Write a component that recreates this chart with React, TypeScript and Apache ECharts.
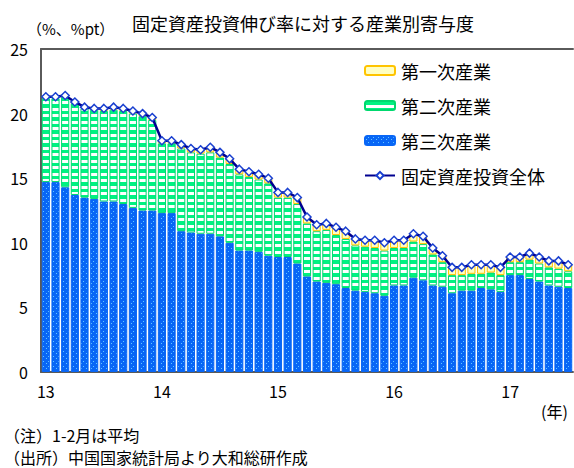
import React, { useEffect, useRef } from "react";
import * as echarts from "echarts";

const years = ["13", "14", "15", "16", "17"];
const monthsShown = 55;

// 固定資産投資全体 (%)
const total = [
  21.3, 21.3, 21.4, 20.9, 20.5, 20.4, 20.4, 20.5, 20.4, 20.2, 20.0, 19.7,
  17.9, 17.9, 17.6, 17.3, 17.2, 17.4, 17.0, 16.5, 15.7, 15.5, 15.3, 15.0,
  13.9, 13.9, 13.5, 12.0, 11.4, 11.5, 11.2, 10.9, 10.3, 10.2, 10.2, 10.0,
  10.2, 10.2, 10.7, 10.5, 9.6, 9.0, 8.1, 8.1, 8.3, 8.3, 8.3, 8.1,
  8.9, 8.9, 9.2, 8.9, 8.6, 8.6, 8.3,
];
// 第三次産業 (%pt)
const tertiary = [
  14.7, 14.7, 14.3, 13.7, 13.5, 13.4, 13.2, 13.2, 13.0, 12.7, 12.5, 12.5,
  12.3, 12.3, 10.9, 10.8, 10.7, 10.7, 10.5, 10.0, 9.4, 9.4, 9.3, 9.0,
  8.9, 8.9, 8.4, 7.4, 7.0, 6.9, 6.8, 6.5, 6.3, 6.2, 6.1, 5.9,
  6.7, 6.7, 7.3, 7.1, 6.7, 6.6, 6.1, 6.3, 6.3, 6.5, 6.4, 6.2,
  7.5, 7.5, 7.2, 7.0, 6.7, 6.6, 6.5,
];
// 第二次産業 (%pt)
const secondary = [
  6.5, 6.5, 7.0, 7.1, 6.9, 6.9, 7.0, 7.1, 7.2, 7.3, 7.3, 7.0,
  5.4, 5.4, 6.4, 6.2, 6.2, 6.3, 6.1, 6.1, 5.9, 5.7, 5.6, 5.6,
  4.6, 4.6, 4.6, 4.1, 3.9, 4.1, 3.8, 3.8, 3.5, 3.5, 3.5, 3.5,
  2.9, 2.9, 2.8, 2.8, 2.4, 1.9, 1.4, 1.2, 1.3, 1.1, 1.3, 1.3,
  1.0, 1.0, 1.5, 1.4, 1.4, 1.4, 1.3,
];
// 第一次産業 (%pt)
const primary = [
  0.1, 0.1, 0.1, 0.1, 0.1, 0.1, 0.2, 0.2, 0.2, 0.2, 0.2, 0.2,
  0.2, 0.2, 0.3, 0.3, 0.3, 0.4, 0.4, 0.4, 0.4, 0.4, 0.4, 0.4,
  0.4, 0.4, 0.5, 0.5, 0.5, 0.5, 0.6, 0.6, 0.5, 0.5, 0.6, 0.6,
  0.6, 0.6, 0.6, 0.6, 0.5, 0.5, 0.6, 0.6, 0.7, 0.7, 0.6, 0.6,
  0.4, 0.4, 0.5, 0.5, 0.5, 0.6, 0.5,
];

const categories: string[] = [];
years.forEach((y) => {
  for (let m = 1; m <= 12; m++) categories.push(`${y}/${m}`);
});
const cats = categories.slice(0, monthsShown);

const FONT = "'Noto Sans CJK JP', 'Noto Sans', sans-serif";

function makeCanvas(w: number, h: number, draw: (ctx: CanvasRenderingContext2D) => void) {
  const c = document.createElement("canvas");
  c.width = w;
  c.height = h;
  const ctx = c.getContext("2d")!;
  draw(ctx);
  return c;
}

export default function App() {
  const ref = useRef<HTMLDivElement>(null);
  useEffect(() => {
    if (!ref.current) return;
    const blue = makeCanvas(5, 5, (ctx) => {
      ctx.fillStyle = "#0866F6";
      ctx.fillRect(0, 0, 5, 5);
      ctx.fillStyle = "#62C6FF";
      ctx.fillRect(1, 3, 1, 1);
      ctx.fillRect(3, 1, 1, 1);
    });
    const green = makeCanvas(4, 13, (ctx) => {
      ctx.fillStyle = "#00F282";
      ctx.fillRect(0, 0, 4, 13);
      ctx.fillStyle = "#FFFFFF";
      ctx.fillRect(0, 4, 4, 3);
      ctx.fillRect(0, 10, 4, 3);
    });

    const chart = echarts.init(ref.current, undefined, { renderer: "svg" });
    const axisColor = "#5A5A5A";
    chart.setOption({
      animation: false,
      textStyle: { fontFamily: FONT },
      title: {
        text: "固定資産投資伸び率に対する産業別寄与度",
        left: 127,
        top: 9,
        textStyle: { fontSize: 18, fontWeight: "normal", color: "#000", fontFamily: FONT },
      },
      legend: {
        orient: "vertical",
        left: 359,
        top: 56,
        itemWidth: 30,
        itemHeight: 9,
        itemGap: 16,
        selectedMode: false,
        data: ["第一次産業", "第二次産業", "第三次産業", "固定資産投資全体"],
        textStyle: { fontSize: 18, color: "#000", fontFamily: FONT, lineHeight: 19, padding: [0, 0, 0, 1] },
      },
      grid: { left: 41, right: 1, top: 49, bottom: 96, containLabel: false },
      xAxis: [
        {
          type: "category",
          data: cats,
          boundaryGap: true,
          axisLine: { lineStyle: { color: axisColor, width: 2 } },
          axisTick: {
            inside: true,
            length: 4,
            interval: (i: number) => i % 12 === 0,
            lineStyle: { color: axisColor, width: 2 },
          },
          axisLabel: {
            interval: (i: number) => i % 12 === 0,
            formatter: (v: string) => v.split("/")[0],
            fontSize: 16,
            color: "#000",
            margin: 11,
            fontFamily: FONT,
          },
        },
        {
          type: "category",
          data: cats,
          position: "top",
          axisLine: { lineStyle: { color: axisColor, width: 2 } },
          axisTick: { show: false },
          axisLabel: { show: false },
        },
      ],
      yAxis: {
        type: "value",
        min: 0,
        max: 25,
        interval: 5,
        axisLine: { show: true, lineStyle: { color: axisColor, width: 2 } },
        axisTick: { show: true, inside: true, length: 4, lineStyle: { color: axisColor, width: 2 } },
        splitLine: { show: false },
        axisLabel: { fontSize: 16, color: "#000", margin: 13, fontFamily: FONT },
      },
      graphic: [
        { type: "text", left: 27, top: 21, style: { text: "（%、%pt）", fill: "#000", font: `15px ${FONT}` } },
        { type: "text", left: 541, top: 403, style: { text: "(年)", fill: "#000", font: `16px ${FONT}` } },
        { type: "text", left: 4, top: 427, style: { text: "（注）1-2月は平均", fill: "#000", font: `16px ${FONT}` } },
        { type: "text", left: 4, top: 449, style: { text: "（出所）中国国家統計局より大和総研作成", fill: "#000", font: `16px ${FONT}` } },
      ],
      series: [
        {
          name: "第三次産業",
          type: "bar",
          stack: "total",
          data: tertiary,
          barCategoryGap: "16%",
          itemStyle: { color: { image: blue, repeat: "repeat" }, borderColor: "#0866F6", borderWidth: 1 },
        },
        {
          name: "第二次産業",
          type: "bar",
          stack: "total",
          data: secondary,
          itemStyle: { color: { image: green, repeat: "repeat" }, borderColor: "#00D86E", borderWidth: 1 },
        },
        {
          name: "第一次産業",
          type: "bar",
          stack: "total",
          data: primary,
          itemStyle: { color: "#FFFFC2", borderColor: "#FFC400", borderWidth: 1 },
        },
        {
          name: "固定資産投資全体",
          type: "line",
          data: total,
          z: 5,
          symbol: "diamond",
          symbolSize: 8,
          showAllSymbol: true,
          lineStyle: { color: "#000090", width: 2.5 },
          itemStyle: { color: "#FFFFFF", borderColor: "#1A40D0", borderWidth: 1.5 },
        },
      ],
    });
    return () => chart.dispose();
  }, []);
  return <div ref={ref} style={{ position: "fixed", left: 0, top: 0, width: 574, height: 468, background: "#fff" }} />;
}
